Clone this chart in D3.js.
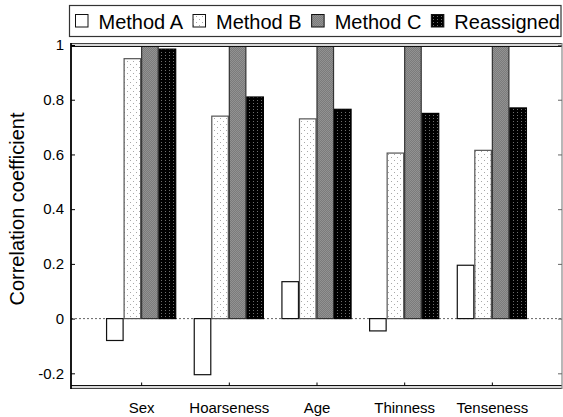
<!DOCTYPE html>
<html>
<head>
<meta charset="utf-8">
<script src="https://cdn.jsdelivr.net/npm/d3@7/dist/d3.min.js"></script>
<style>
  html, body { margin: 0; padding: 0; background: #fff; }
  svg { display: block; font-family: "Liberation Sans", Arial, Helvetica, sans-serif; }
</style>
</head>
<body>
<svg id="chart" width="563" height="417"></svg>
<script>
// ---- data ----
const categories = ["Sex", "Hoarseness", "Age", "Thinness", "Tenseness"];
const seriesNames = ["Method A", "Method B", "Method C", "Reassigned"];
const methodA = [-0.08, -0.205, 0.135, -0.045, 0.195];
const methodB = [0.95, 0.74, 0.73, 0.605, 0.615];
const methodC = [1.0, 0.997, 0.995, 0.998, 0.997];
const reassigned = [0.985, 0.81, 0.765, 0.75, 0.77];
const yTicks = [-0.2, 0, 0.2, 0.4, 0.6, 0.8, 1];
const yTickLabels = ["-0.2", "0", "0.2", "0.4", "0.6", "0.8", "1"];
const yLabel = "Correlation coefficient";

const series = [methodA, methodB, methodC, reassigned];

// ---- layout ----
const pLeft = 71, pRight = 562, pTop = 45, pBottom = 387;
const svg = d3.select("#chart");

const x = d3.scaleLinear().domain([0.2, 5.8]).range([pLeft, pRight]);
const y = d3.scaleLinear().domain([-0.25, 1.0]).range([pBottom, pTop]);

// ---- patterns ----
const defs = svg.append("defs");
const pB = defs.append("pattern").attr("id", "patB").attr("patternUnits", "userSpaceOnUse")
  .attr("width", 6).attr("height", 6);
pB.append("rect").attr("width", 6).attr("height", 6).attr("fill", "#ffffff");
pB.append("rect").attr("x", 1).attr("y", 1).attr("width", 1).attr("height", 1).attr("fill", "#a8a8a8");
pB.append("rect").attr("x", 4).attr("y", 4).attr("width", 1).attr("height", 1).attr("fill", "#a8a8a8");
const pC = defs.append("pattern").attr("id", "patC").attr("patternUnits", "userSpaceOnUse")
  .attr("width", 2).attr("height", 2);
pC.append("rect").attr("width", 2).attr("height", 2).attr("fill", "#7b7b7b");
pC.append("rect").attr("x", 0).attr("y", 0).attr("width", 1).attr("height", 1).attr("fill", "#929292");
pC.append("rect").attr("x", 1).attr("y", 1).attr("width", 1).attr("height", 1).attr("fill", "#929292");
const pR = defs.append("pattern").attr("id", "patR").attr("patternUnits", "userSpaceOnUse")
  .attr("width", 4).attr("height", 3);
pR.append("rect").attr("width", 4).attr("height", 3).attr("fill", "#000000");
pR.append("rect").attr("x", 1).attr("y", 1).attr("width", 1).attr("height", 1).attr("fill", "#6e6e6e");

const fills = ["#ffffff", "url(#patB)", "url(#patC)", "url(#patR)"];
const strokes = ["#111", "#555", "#333", "#000"];

// ---- zero dotted line ----
svg.append("line")
  .attr("x1", pLeft).attr("x2", pRight)
  .attr("y1", y(0)).attr("y2", y(0))
  .attr("stroke", "#666").attr("stroke-width", 1)
  .attr("stroke-dasharray", "2,2");

// ---- bars ----
const barW = 0.2;
series.forEach((vals, j) => {
  svg.append("g").selectAll("rect")
    .data(vals)
    .join("rect")
    .attr("x", (d, i) => x(i + 1 + (j - 2) * barW) + 0.5)
    .attr("width", (d, i) => x(i + 1 + (j - 1) * barW) - x(i + 1 + (j - 2) * barW) - 1)
    .attr("y", d => Math.min(y(d), y(0)))
    .attr("height", d => Math.abs(y(d) - y(0)))
    .attr("fill", fills[j])
    .attr("stroke", strokes[j])
    .attr("stroke-width", 1.2);
});

// ---- frame ----
svg.append("rect").attr("x", pLeft).attr("y", pTop - 1.5).attr("width", pRight - pLeft).attr("height", 3)
  .attr("fill", "#d8d8d8");
svg.append("line").attr("x1", pLeft).attr("x2", pRight).attr("y1", pTop - 1.5).attr("y2", pTop - 1.5)
  .attr("stroke", "#444").attr("stroke-width", 1.2);
svg.append("line").attr("x1", pLeft).attr("x2", pRight).attr("y1", pTop + 1.5).attr("y2", pTop + 1.5)
  .attr("stroke", "#111").attr("stroke-width", 1);
svg.append("rect").attr("x", pLeft).attr("y", pBottom - 1.5).attr("width", pRight - pLeft).attr("height", 3)
  .attr("fill", "#d8d8d8");
svg.append("line").attr("x1", pLeft).attr("x2", pRight).attr("y1", pBottom - 1.5).attr("y2", pBottom - 1.5)
  .attr("stroke", "#111").attr("stroke-width", 1);
svg.append("line").attr("x1", pLeft).attr("x2", pRight).attr("y1", pBottom + 1.5).attr("y2", pBottom + 1.5)
  .attr("stroke", "#444").attr("stroke-width", 1.2);
svg.append("line").attr("x1", pLeft).attr("x2", pLeft).attr("y1", pTop - 2).attr("y2", pBottom + 2)
  .attr("stroke", "#000").attr("stroke-width", 1.8);
svg.append("line").attr("x1", pRight).attr("x2", pRight).attr("y1", pTop - 2).attr("y2", pBottom + 2)
  .attr("stroke", "#888").attr("stroke-width", 1.2);

// ---- axes ----
const yAxis = d3.axisLeft(y).tickValues(yTicks).tickSize(-4).tickPadding(7)
  .tickFormat((d, i) => yTickLabels[i]);
const gy = svg.append("g").attr("transform", `translate(${pLeft},0)`).call(yAxis);
gy.select(".domain").remove();
gy.selectAll("text").attr("font-size", 15).attr("fill", "#000")
  .attr("font-family", "'Liberation Sans', Arial, sans-serif");
gy.selectAll("line").attr("stroke", "#000");

const yAxisR = d3.axisRight(y).tickValues(yTicks).tickSize(-4).tickFormat("");
const gyr = svg.append("g").attr("transform", `translate(${pRight},0)`).call(yAxisR);
gyr.select(".domain").remove();
gyr.selectAll("line").attr("stroke", "#666");

const xAxis = d3.axisBottom(x).tickValues(categories.map((c, i) => i + 1))
  .tickSize(-3).tickPadding(17).tickFormat((d, i) => categories[i]);
const gx = svg.append("g").attr("transform", `translate(0,${pBottom - 1.5})`).call(xAxis);
gx.select(".domain").remove();
gx.selectAll("text").attr("font-size", 15).attr("fill", "#000")
  .attr("font-family", "'Liberation Sans', Arial, sans-serif");
gx.selectAll("line").attr("stroke", "#000");

// y label
svg.append("text")
  .attr("transform", `translate(24,209) rotate(-90)`)
  .attr("text-anchor", "middle")
  .attr("font-size", 20)
  .attr("fill", "#000")
  .text(yLabel);

// ---- legend ----
const lg = svg.append("g");
lg.append("rect").attr("x", 69.5).attr("y", 5.5).attr("width", 491.5).attr("height", 31)
  .attr("fill", "#fff").attr("stroke", "#333").attr("stroke-width", 1.2);
let cx = 75;
seriesNames.forEach((name, j) => {
  lg.append("rect").attr("x", cx + 0.5).attr("y", 14.5).attr("width", 12.5).attr("height", 12.5)
    .attr("fill", fills[j]).attr("stroke", "#111").attr("stroke-width", 1);
  cx += 13 + 10.5;
  const t = lg.append("text").attr("x", cx).attr("y", 28.5)
    .attr("font-size", 20).attr("fill", "#000").text(name);
  cx += t.node().getComputedTextLength() + 9.5;
});
</script>
</body>
</html>
